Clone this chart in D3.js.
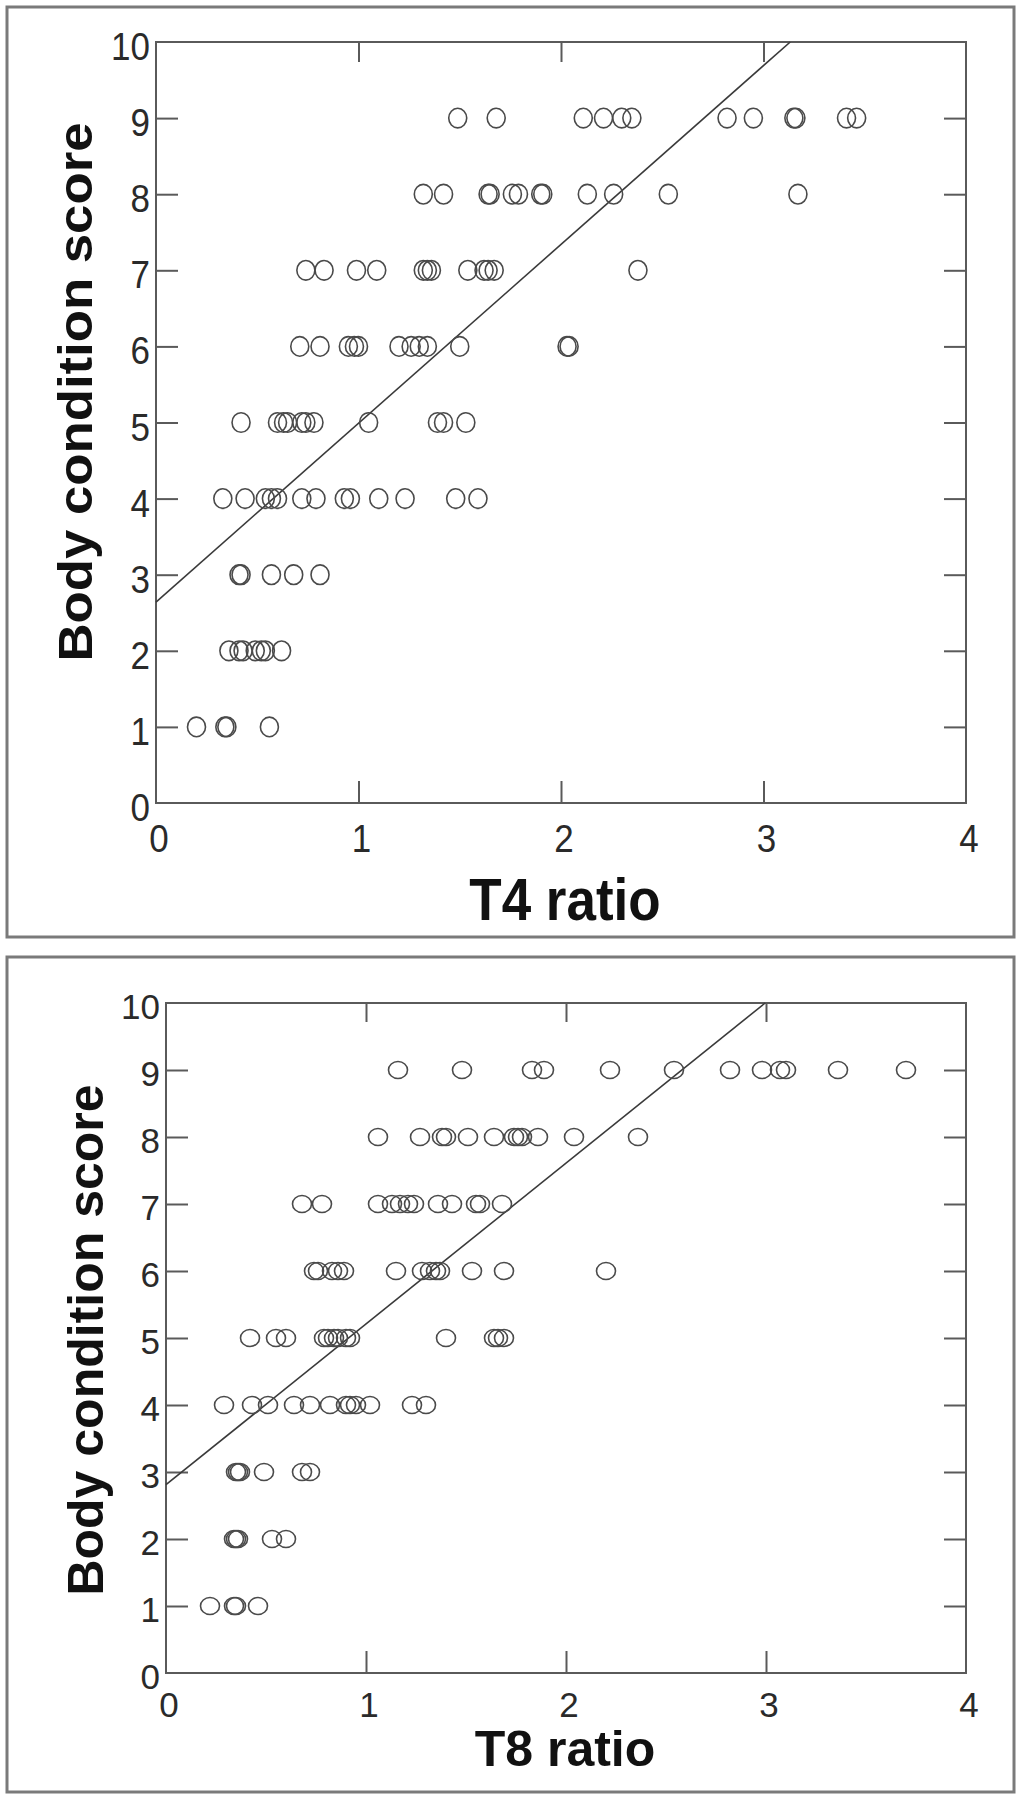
<!DOCTYPE html>
<html>
<head>
<meta charset="utf-8">
<script src="https://cdn.jsdelivr.net/npm/d3@7"></script>
<style>
  html, body { margin: 0; padding: 0; background: #fff; }
  svg { display: block; }
</style>
</head>
<body>
<svg id="chart" width="1023" height="1800"></svg>
<script>
// ---------- Data ----------
const scoreTicks = [0, 1, 2, 3, 4, 5, 6, 7, 8, 9, 10];
const ratioTicks = [0, 1, 2, 3, 4];

// Panel A: T4 ratio by body condition score
const t4_score1 = [0.20, 0.34, 0.35, 0.56];
const t4_score2 = [0.36, 0.41, 0.43, 0.49, 0.52, 0.54, 0.62];
const t4_score3 = [0.41, 0.42, 0.57, 0.68, 0.81];
const t4_score4 = [0.33, 0.44, 0.54, 0.57, 0.60, 0.72, 0.79, 0.93, 0.96, 1.10, 1.23, 1.48, 1.59];
const t4_score5 = [0.42, 0.60, 0.63, 0.65, 0.72, 0.74, 0.78, 1.05, 1.39, 1.42, 1.53];
const t4_score6 = [0.71, 0.81, 0.95, 0.98, 1.00, 1.20, 1.26, 1.30, 1.34, 1.50, 2.03, 2.04];
const t4_score7 = [0.74, 0.83, 0.99, 1.09, 1.32, 1.34, 1.36, 1.54, 1.62, 1.64, 1.67, 2.38];
const t4_score8 = [1.32, 1.42, 1.64, 1.65, 1.76, 1.79, 1.90, 1.91, 2.13, 2.26, 2.53, 3.17];
const t4_score9 = [1.49, 1.68, 2.11, 2.21, 2.30, 2.35, 2.82, 2.95, 3.15, 3.16, 3.41, 3.46];
const t4Intercept = 2.64;
const t4Slope = 2.35;

// Panel B: T8 ratio by body condition score
const t8_score1 = [0.22, 0.34, 0.35, 0.46];
const t8_score2 = [0.34, 0.35, 0.36, 0.53, 0.60];
const t8_score3 = [0.35, 0.36, 0.37, 0.49, 0.68, 0.72];
const t8_score4 = [0.29, 0.43, 0.51, 0.64, 0.72, 0.82, 0.90, 0.92, 0.95, 1.02, 1.23, 1.30];
const t8_score5 = [0.42, 0.55, 0.60, 0.79, 0.81, 0.84, 0.86, 0.90, 0.92, 1.40, 1.64, 1.66, 1.69];
const t8_score6 = [0.74, 0.76, 0.83, 0.86, 0.89, 1.15, 1.28, 1.32, 1.35, 1.37, 1.53, 1.69, 2.20];
const t8_score7 = [0.68, 0.78, 1.06, 1.13, 1.17, 1.21, 1.24, 1.36, 1.43, 1.55, 1.57, 1.68];
const t8_score8 = [1.06, 1.27, 1.38, 1.40, 1.51, 1.64, 1.74, 1.76, 1.78, 1.86, 2.04, 2.36];
const t8_score9 = [1.16, 1.48, 1.83, 1.89, 2.22, 2.54, 2.82, 2.98, 3.07, 3.10, 3.36, 3.70];
const t8Intercept = 2.81;
const t8Slope = 2.40;

function toPoints(rows) {
  const pts = [];
  rows.forEach((arr, i) => arr.forEach(v => pts.push({ x: v, y: i + 1 })));
  return pts;
}
const t4Points = toPoints([t4_score1, t4_score2, t4_score3, t4_score4, t4_score5, t4_score6, t4_score7, t4_score8, t4_score9]);
const t8Points = toPoints([t8_score1, t8_score2, t8_score3, t8_score4, t8_score5, t8_score6, t8_score7, t8_score8, t8_score9]);

// ---------- Drawing ----------
const svg = d3.select("#chart");
const FONT = "'Liberation Sans', Arial, Helvetica, sans-serif";

// text with a vertical stretch factor k (the source figure is slightly stretched)
function stretchedText(parent, x, y, str, o) {
  const g = parent.append("g")
    .attr("transform", `translate(${x},${y}) scale(1,${o.k})${o.rotate ? " rotate(-90)" : ""}`);
  g.append("text")
    .attr("x", 0).attr("y", o.dy || 0)
    .attr("text-anchor", o.anchor || "middle")
    .attr("font-family", FONT)
    .attr("font-weight", o.weight || "normal")
    .attr("font-size", o.size)
    .attr("fill", o.fill || "#2a2a2a")
    .text(str);
}

function panel(cfg) {
  svg.append("rect")
    .attr("x", cfg.frame.x).attr("y", cfg.frame.y)
    .attr("width", cfg.frame.w).attr("height", cfg.frame.h)
    .attr("fill", "none").attr("stroke", "#7a7a7a").attr("stroke-width", 3);

  const x = d3.scaleLinear().domain([0, 4]).range([cfg.left, cfg.right]);
  const y = d3.scaleLinear().domain([0, 10]).range([cfg.bottom, cfg.top]);
  const g = svg.append("g");
  const tl = cfg.tick;
  const axisColor = "#5a5a5a";

  const inner = ratioTicks.slice(1, -1);
  const innerY = scoreTicks.slice(1, -1);
  const styleAxis = (sel) => {
    sel.select(".domain").remove();
    sel.selectAll(".tick line").attr("stroke", axisColor).attr("stroke-width", 2);
    sel.selectAll(".tick text").remove();
  };
  g.append("g").attr("transform", `translate(0,${cfg.bottom})`)
    .call(d3.axisTop(x).tickValues(inner).tickSize(tl)).call(styleAxis);
  g.append("g").attr("transform", `translate(0,${cfg.top})`)
    .call(d3.axisBottom(x).tickValues(inner).tickSize(cfg.tickTop)).call(styleAxis);
  g.append("g").attr("transform", `translate(${cfg.left},0)`)
    .call(d3.axisRight(y).tickValues(innerY).tickSize(tl)).call(styleAxis);
  g.append("g").attr("transform", `translate(${cfg.right},0)`)
    .call(d3.axisLeft(y).tickValues(innerY).tickSize(tl)).call(styleAxis);

  g.append("rect")
    .attr("x", cfg.left).attr("y", cfg.top)
    .attr("width", cfg.right - cfg.left).attr("height", cfg.bottom - cfg.top)
    .attr("fill", "none").attr("stroke", axisColor).attr("stroke-width", 2);

  // tick labels
  scoreTicks.forEach(d => stretchedText(g, cfg.left - 6, y(d), d, {
    k: cfg.k, size: 35, anchor: "end", dy: cfg.yLabelOff / cfg.k
  }));
  ratioTicks.forEach(d => stretchedText(g, x(d) + 3, cfg.xLabelBase, d, {
    k: cfg.k, size: 35, anchor: "middle"
  }));

  // regression line, ending where it meets score 10
  const xEnd = (10 - cfg.intercept) / cfg.slope;
  const line = d3.line().x(d => x(d[0])).y(d => y(d[1]));
  g.append("path")
    .datum([[0, cfg.intercept], [xEnd, 10]])
    .attr("d", line)
    .attr("fill", "none").attr("stroke", "#3a3a3a").attr("stroke-width", 1.6);

  // points (open ellipses)
  g.selectAll(".pt").data(cfg.points).enter().append("ellipse")
    .attr("cx", d => x(d.x)).attr("cy", d => y(d.y))
    .attr("rx", cfg.rx).attr("ry", cfg.ry)
    .attr("fill", "none").attr("stroke", "#4a4a4a").attr("stroke-width", 1.6);

  // axis titles
  stretchedText(svg, cfg.xTitleX, cfg.xTitleY, cfg.xTitle, {
    k: cfg.k, size: cfg.xTitleSize, weight: "bold", fill: "#111"
  });
  stretchedText(svg, cfg.yTitleX, cfg.yTitleY, "Body condition score", {
    k: cfg.kY, size: cfg.yTitleSize, weight: "bold", fill: "#111", rotate: true
  });
}

panel({
  frame: { x: 7, y: 7, w: 1007, h: 930 },
  left: 156, right: 966, top: 42, bottom: 803, tick: 22, tickTop: 20,
  k: 1.1, kY: 1.11,
  xLabelBase: 852, yLabelOff: 18,
  points: t4Points, rx: 9, ry: 9.8,
  intercept: t4Intercept, slope: t4Slope,
  xTitle: "T4 ratio", xTitleX: 565, xTitleY: 920, xTitleSize: 53,
  yTitleX: 92, yTitleY: 392, yTitleSize: 47.5
});

panel({
  frame: { x: 7, y: 957, w: 1007, h: 835 },
  left: 166, right: 966, top: 1003, bottom: 1673, tick: 22, tickTop: 19,
  k: 1.0, kY: 1.0,
  xLabelBase: 1717, yLabelOff: 16,
  points: t8Points, rx: 9.5, ry: 8.5,
  intercept: t8Intercept, slope: t8Slope,
  xTitle: "T8 ratio", xTitleX: 565, xTitleY: 1766, xTitleSize: 50,
  yTitleX: 103, yTitleY: 1340, yTitleSize: 50
});
</script>
</body>
</html>
